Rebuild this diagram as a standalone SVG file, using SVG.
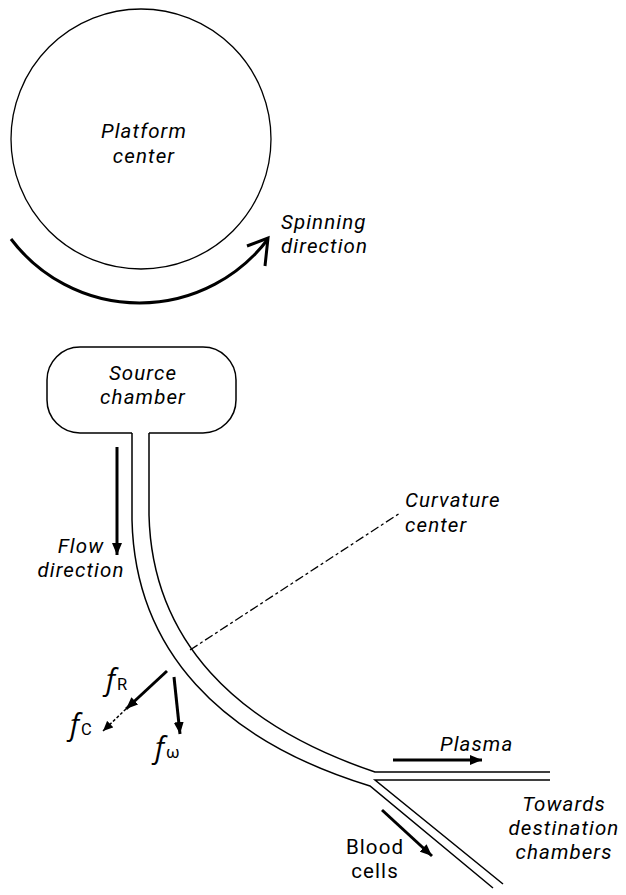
<svg xmlns="http://www.w3.org/2000/svg" width="626" height="895" viewBox="0 0 626 895">
<style>
.lbl{font-family:Roboto,"Liberation Sans",sans-serif;font-style:italic;font-size:20.5px;letter-spacing:1.1px;fill:#000}
.reg{font-family:Roboto,"Liberation Sans",sans-serif;font-size:20.5px;letter-spacing:1.1px;fill:#000}
.f{font-family:"Open Sans","Liberation Sans",sans-serif;font-style:italic;font-size:29px;fill:#000}
.sub{font-family:Roboto,"Liberation Sans",sans-serif;font-size:16.5px;fill:#000}
.wall{fill:none;stroke:#000;stroke-width:1.5}
.arr{fill:none;stroke:#000;stroke-width:3}
</style>
<defs>
<marker id="head" markerUnits="userSpaceOnUse" markerWidth="12" markerHeight="10" refX="12" refY="5" orient="auto">
<path d="M0,0 L12,5 L0,10 z" fill="#000"/>
</marker>
<marker id="headS" markerUnits="userSpaceOnUse" markerWidth="10" markerHeight="9" refX="10" refY="4.5" orient="auto">
<path d="M0,0 L10,4.5 L0,9 z" fill="#000"/>
</marker>
</defs>

<g id="platform">
<circle cx="141" cy="139" r="130" fill="none" stroke="#000" stroke-width="1.3"/>
<text class="lbl" x="144" y="138" text-anchor="middle">Platform</text>
<text class="lbl" x="144" y="163" text-anchor="middle">center</text>
</g>

<g id="spinning">
<path class="arr" d="M11,239 A161,161 0 0 0 268,239"/>
<polyline class="arr" points="247,246 268,238 265,266" stroke-linejoin="miter"/>
<text class="lbl" x="281" y="229">Spinning</text>
<text class="lbl" x="281" y="253">direction</text>
</g>

<g id="source-chamber">
<path class="wall" d="M132,433 L80,433 A33,33 0 0 1 47,400 L47,380 A33,33 0 0 1 80,347 L203,347 A33,33 0 0 1 236,380 L236,400 A33,33 0 0 1 203,433 L149,433"/>
<text class="lbl" x="143" y="380" text-anchor="middle">Source</text>
<text class="lbl" x="143" y="404" text-anchor="middle">chamber</text>
</g>

<g id="channel">
<path class="wall" d="M132,433 L132,520 C135,650 220,740 370,786 L493,888"/>
<path class="wall" d="M149,433 L149,515 C152,640 235,725 375,772 L550,772"/>
<path class="wall" d="M550,780 L375,780 L503,884"/>
</g>

<g id="curvature-center">
<line x1="190" y1="650" x2="400" y2="513" stroke="#000" stroke-width="1.3" stroke-dasharray="9,3,3,3"/>
<text class="lbl" x="405" y="507">Curvature</text>
<text class="lbl" x="405" y="532">center</text>
</g>

<g id="flow">
<line class="arr" x1="117" y1="447" x2="117" y2="555" marker-end="url(#head)"/>
<text class="lbl" x="81" y="553" text-anchor="middle">Flow</text>
<text class="lbl" x="81" y="577" text-anchor="middle">direction</text>
</g>

<g id="forces">
<line class="arr" x1="167" y1="671" x2="126" y2="709" marker-end="url(#head)"/>
<line x1="126" y1="709" x2="103" y2="731" stroke="#000" stroke-width="1.5" stroke-dasharray="3,2" marker-end="url(#headS)"/>
<line class="arr" x1="174" y1="677" x2="180" y2="734" marker-end="url(#head)"/>
<text x="106" y="690"><tspan class="f">f</tspan><tspan class="sub" dx="2">R</tspan></text>
<text x="70" y="735"><tspan class="f">f</tspan><tspan class="sub" dx="2">C</tspan></text>
<text x="155" y="758"><tspan class="f">f</tspan><tspan class="sub" dx="2">ω</tspan></text>
</g>

<g id="plasma">
<line class="arr" x1="393" y1="760" x2="482" y2="760" marker-end="url(#head)"/>
<text class="lbl" x="440" y="751">Plasma</text>
</g>

<g id="blood-cells">
<line class="arr" x1="382" y1="810" x2="432" y2="856" marker-end="url(#head)"/>
<text class="reg" x="375" y="854" text-anchor="middle">Blood</text>
<text class="reg" x="375" y="878" text-anchor="middle">cells</text>
</g>

<g id="destination">
<text class="lbl" x="564" y="811" text-anchor="middle">Towards</text>
<text class="lbl" x="564" y="835" text-anchor="middle">destination</text>
<text class="lbl" x="564" y="859" text-anchor="middle">chambers</text>
</g>
</svg>
